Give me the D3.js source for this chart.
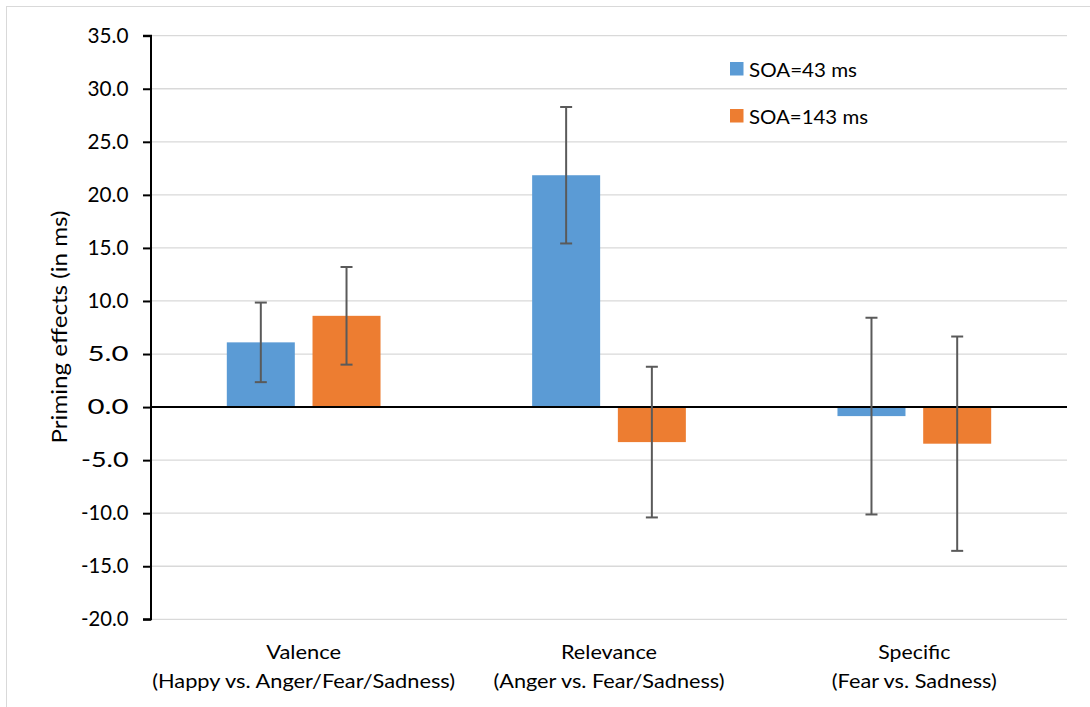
<!DOCTYPE html>
<html><head><meta charset="utf-8">
<script src="https://cdn.jsdelivr.net/npm/d3@7"></script>
<style>html,body{margin:0;padding:0;background:#fff;} text{font-family:Lato,"Open Sans",sans-serif;fill:#000;}</style>
</head><body>
<svg id="c" width="1090" height="707"></svg>
<script>
const categories = ["Valence", "Relevance", "Specific"];
const subLabels = ["(Happy vs. Anger/Fear/Sadness)", "(Anger vs. Fear/Sadness)", "(Fear vs. Sadness)"];
const seriesNames = ["SOA=43 ms", "SOA=143 ms"];
const soa43 = [6.1, 21.85, -0.85];
const soa143 = [8.6, -3.3, -3.45];
const err43 = [3.75, 6.43, 9.27];
const err143 = [4.6, 7.1, 10.1];
const yTicks = [35, 30, 25, 20, 15, 10, 5, 0, -5, -10, -15, -20];
const colors = ["#5B9BD5", "#ED7D31"];

(function () {
const svg = d3.select("#c");
svg.append("rect").attr("x", 6.5).attr("y", 6.5).attr("width", 1100).attr("height", 720)
  .attr("fill", "#fff").attr("stroke", "#d9d9d9");

const pLeft = 151, pRight = 1067, pTop = 35.7, pBottom = 619.3;
const y = d3.scaleLinear().domain([-20, 35]).range([pBottom, pTop]);
const x0 = d3.scaleBand().domain(categories).range([pLeft, pRight]).padding(0);
const x1 = d3.scaleBand().domain(seriesNames).range([0, x0.bandwidth()]).paddingInner(0.2066).paddingOuter(0.8845);

// gridlines
svg.append("g").selectAll("line").data(yTicks.filter(t => t !== 0)).join("line")
  .attr("x1", pLeft).attr("x2", pRight).attr("y1", d => y(d)).attr("y2", d => y(d))
  .attr("stroke", "#d9d9d9").attr("stroke-width", 1.3);

// bars
const data = [];
categories.forEach((c, i) => {
  data.push({c, s: seriesNames[0], v: soa43[i], e: err43[i], col: colors[0]});
  data.push({c, s: seriesNames[1], v: soa143[i], e: err143[i], col: colors[1]});
});
svg.append("g").selectAll("rect").data(data).join("rect")
  .attr("x", d => x0(d.c) + x1(d.s)).attr("width", x1.bandwidth())
  .attr("y", d => y(Math.max(0, d.v))).attr("height", d => Math.abs(y(d.v) - y(0)))
  .attr("fill", d => d.col);

// y axis
const yAxis = d3.axisLeft(y).tickValues(yTicks).tickFormat(d => d.toFixed(1)).tickSize(8).tickPadding(6);
const ga = svg.append("g").attr("transform", `translate(${pLeft},0)`).call(yAxis);
ga.select(".domain").attr("stroke", "#000").attr("stroke-width", 2).attr("d", `M-8,${pTop}H0V${pBottom}H-8`);
ga.selectAll(".tick line").attr("stroke", "#000").attr("stroke-width", 2);
ga.selectAll(".tick text").attr("font-size", 20.5).attr("font-family", "Lato").attr("fill", "#000")
  .attr("x", -22.5)
  .attr("textLength", d => d < 0 ? 47.5 : 41).attr("lengthAdjust", "spacingAndGlyphs");

// zero line
svg.append("line").attr("x1", pLeft).attr("x2", pRight).attr("y1", y(0)).attr("y2", y(0))
  .attr("stroke", "#000").attr("stroke-width", 2);

// error bars
const eb = svg.append("g").attr("stroke", "#5a5a5a").attr("stroke-width", 2);
data.forEach(d => {
  const cx = x0(d.c) + x1(d.s) + x1.bandwidth() / 2;
  eb.append("line").attr("x1", cx).attr("x2", cx).attr("y1", y(d.v + d.e)).attr("y2", y(d.v - d.e));
  [d.v + d.e, d.v - d.e].forEach(v => {
    eb.append("line").attr("x1", cx - 6).attr("x2", cx + 6).attr("y1", y(v)).attr("y2", y(v));
  });
});

// category labels
const line1W = [75, 96, 72];
const line2W = [303, 231, 165];
categories.forEach((c, i) => {
  const cx = x0(c) + x0.bandwidth() / 2;
  svg.append("text").attr("x", cx).attr("y", 659).attr("text-anchor", "middle").attr("font-size", 20)
    .attr("textLength", line1W[i]).attr("lengthAdjust", "spacingAndGlyphs").text(c);
  svg.append("text").attr("x", cx).attr("y", 688).attr("text-anchor", "middle").attr("font-size", 20)
    .attr("textLength", line2W[i]).attr("lengthAdjust", "spacingAndGlyphs").text(subLabels[i]);
});

// y label
svg.append("text").attr("transform", "translate(66.5,327) rotate(-90)").attr("text-anchor", "middle")
  .attr("font-size", 20.5).attr("textLength", 233).attr("lengthAdjust", "spacingAndGlyphs")
  .text("Priming effects (in ms)");

// legend
const legW = [108, 119];
seriesNames.forEach((s, i) => {
  const ly = 62 + i * 47;
  svg.append("rect").attr("x", 730).attr("y", ly).attr("width", 13.5).attr("height", 13.5).attr("fill", colors[i]);
  svg.append("text").attr("x", 749).attr("y", ly + 14.5).attr("font-size", 20)
    .attr("textLength", legW[i]).attr("lengthAdjust", "spacingAndGlyphs").text(s);
});
})();
</script>
</body></html>
